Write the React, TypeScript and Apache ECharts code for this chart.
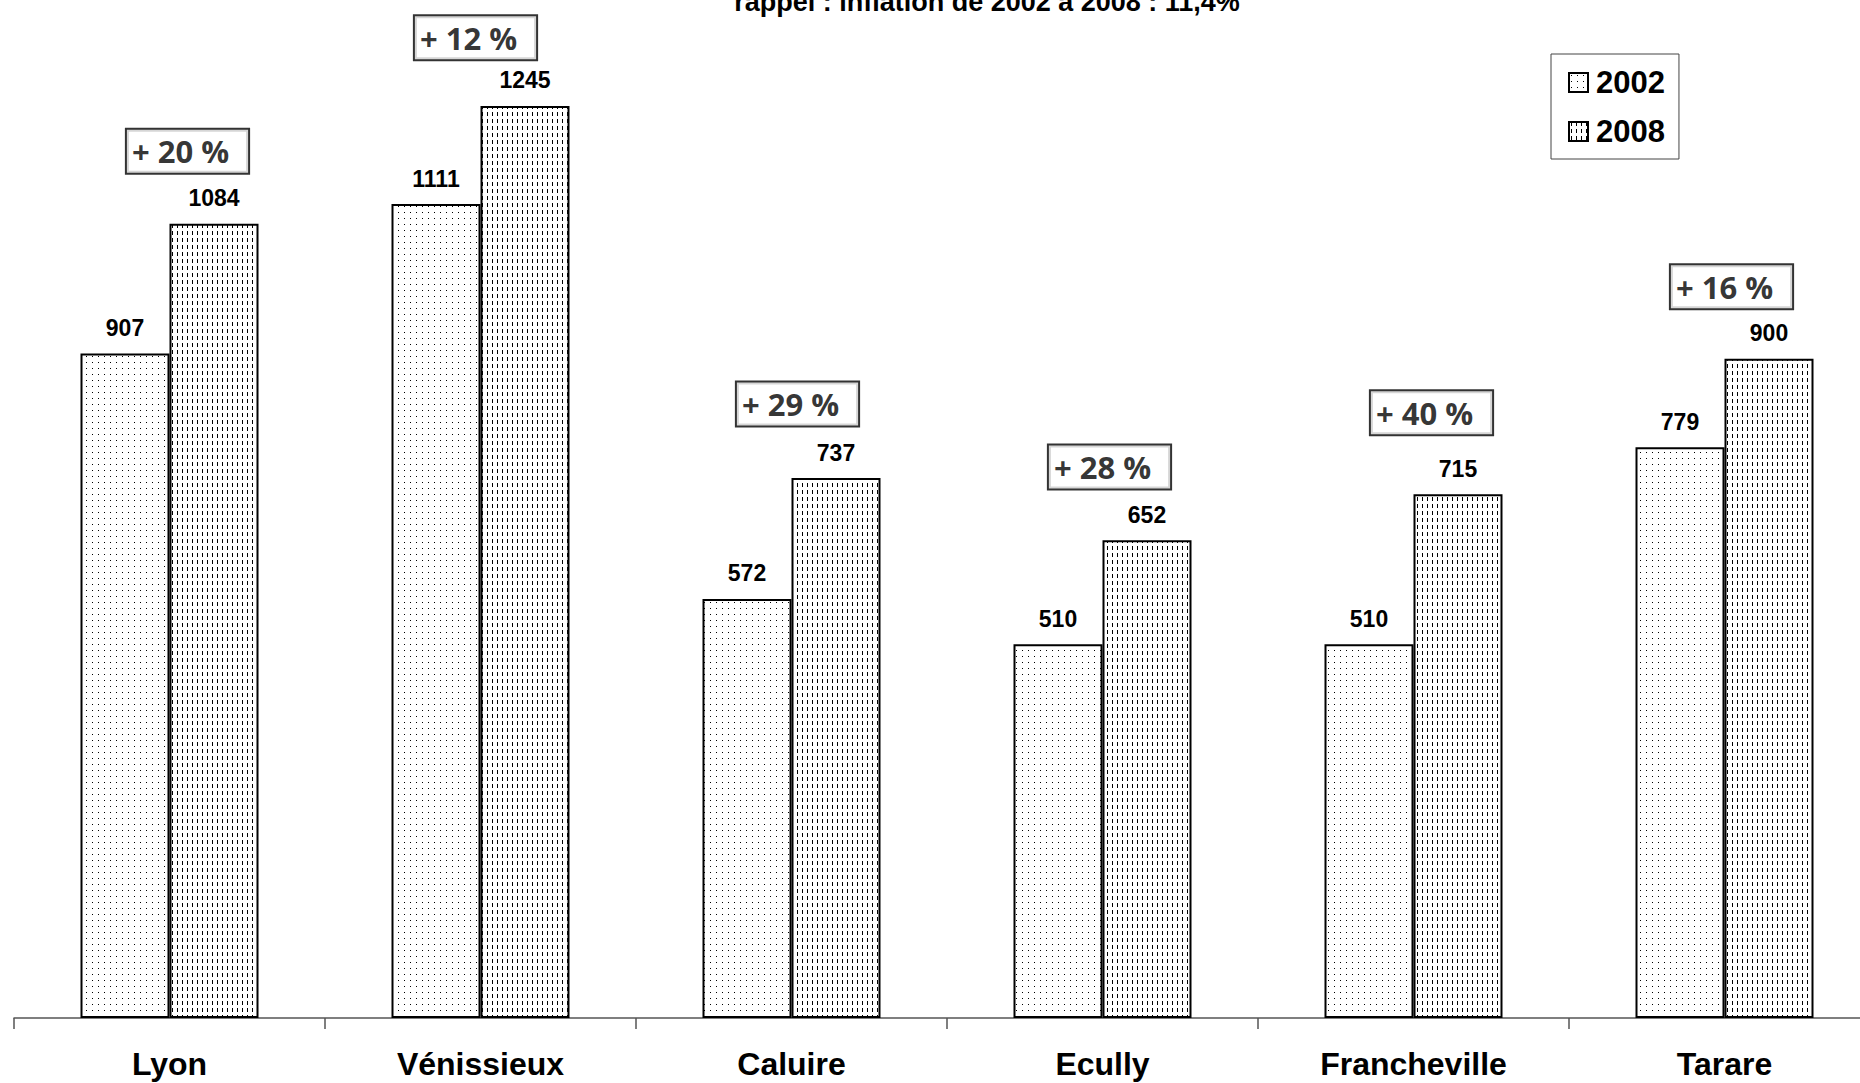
import React, { useEffect, useRef } from "react";
import * as echarts from "echarts";

const categories = ["Lyon", "Vénissieux", "Caluire", "Ecully", "Francheville", "Tarare"];
const values2002 = [907, 1111, 572, 510, 510, 779];
const values2008 = [1084, 1245, 737, 652, 715, 900];
const pctLabels = ["+ 20 %", "+ 12 %", "+ 29 %", "+ 28 %", "+ 40 %", "+ 16 %"];
// anchor (in data units) of each percentage box
const pctAnchor = [1183, 1338, 838, 752, 826, 998];
const seriesNames = ["2002", "2008"];
const titleText = "rappel : inflation de 2002 à 2008 : 11,4%";

// horizontal pixel shift of each percentage box from its category centre
const pctShift = [18, -5, 6, 7, 18, 7];

const ARIAL = "'Liberation Sans', Arial, sans-serif";

function makePattern(kind: "dots" | "dashes") {
  const c = document.createElement("canvas");
  if (kind === "dots") {
    c.width = 6;
    c.height = 6;
  } else {
    c.width = 5;
    c.height = 7;
  }
  const ctx = c.getContext("2d")!;
  ctx.fillStyle = "#ffffff";
  ctx.fillRect(0, 0, c.width, c.height);
  ctx.fillStyle = "#000000";
  if (kind === "dots") {
    ctx.fillRect(2, 2, 1, 1);
  } else {
    ctx.fillRect(2, 0, 1, 4);
  }
  return { image: c, repeat: "repeat", imageWidth: c.width, imageHeight: c.height } as any;
}

export default function App() {
  const ref = useRef<HTMLDivElement>(null);
  useEffect(() => {
    document.body.style.margin = "0";
    document.body.style.overflow = "hidden";
    const chart = echarts.init(ref.current!, null, { renderer: "svg" });
    const valueLabel = {
      show: true,
      position: "top",
      distance: 14,
      fontSize: 23,
      fontWeight: "bold",
      fontFamily: ARIAL,
      color: "#000",
    };
    chart.setOption({
      animation: false,
      backgroundColor: "#ffffff",
      graphic: [
        {
          type: "text",
          x: 987,
          y: 15,
          style: {
            text: titleText,
            textAlign: "center",
            textVerticalAlign: "bottom",
            font: `bold 27px ${ARIAL}`,
            fill: "#000",
          },
        },
      ],
      legend: {
        data: seriesNames,
        orient: "vertical",
        left: 1551,
        top: 54,
        itemWidth: 19,
        itemHeight: 19,
        itemGap: 18,
        padding: [13, 14, 12, 17],
        borderColor: "#444",
        borderWidth: 1,
        icon: "rect",
        textStyle: { fontSize: 31, fontWeight: "bold", fontFamily: ARIAL, color: "#000", padding: [0, 0, 0, 3] },
      },
      grid: { left: 14, width: 1866, top: 7, bottom: 65, containLabel: false },
      xAxis: {
        type: "category",
        data: categories,
        axisLine: { show: true, lineStyle: { color: "#555", width: 1.5 } },
        axisTick: { show: true, length: 11, interval: 0, lineStyle: { color: "#555", width: 1.5 } },
        axisLabel: { margin: 30, fontSize: 32, fontWeight: "bold", fontFamily: ARIAL, color: "#000" },
      },
      yAxis: { type: "value", min: 0, max: 1380, show: false, splitLine: { show: false } },
      series: [
        {
          name: seriesNames[0],
          type: "bar",
          data: values2002,
          barWidth: 89,
          barGap: "0%",
          itemStyle: { color: makePattern("dots"), borderColor: "#000", borderWidth: 2 },
          label: valueLabel,
        },
        {
          name: seriesNames[1],
          type: "bar",
          data: values2008,
          barWidth: 89,
          barGap: "0%",
          itemStyle: { color: makePattern("dashes"), borderColor: "#000", borderWidth: 2 },
          label: valueLabel,
        },
        {
          name: "pct",
          type: "scatter",
          data: pctAnchor.map((v, i) => ({ value: v, label: { offset: [pctShift[i], 0] } })),
          symbolSize: 1,
          silent: true,
          itemStyle: { color: "rgba(0,0,0,0)" },
          label: {
            show: true,
            position: "inside",
            formatter: (p: any) => pctLabels[p.dataIndex],
            fontFamily: "'Open Sans', 'Noto Sans', sans-serif",
            fontWeight: "bold",
            fontSize: 31,
            color: "#000",
            backgroundColor: "#fff",
            borderColor: "#000",
            borderWidth: 2,
            padding: [6, 19, 6, 5],
          },
          z: 5,
        },
      ],
    });
    return () => chart.dispose();
  }, []);
  return (
    <div style={{ width: 1860, height: 1083, overflow: "hidden", position: "relative" }}>
      <div ref={ref} style={{ width: 1900, height: 1083 }} />
    </div>
  );
}
